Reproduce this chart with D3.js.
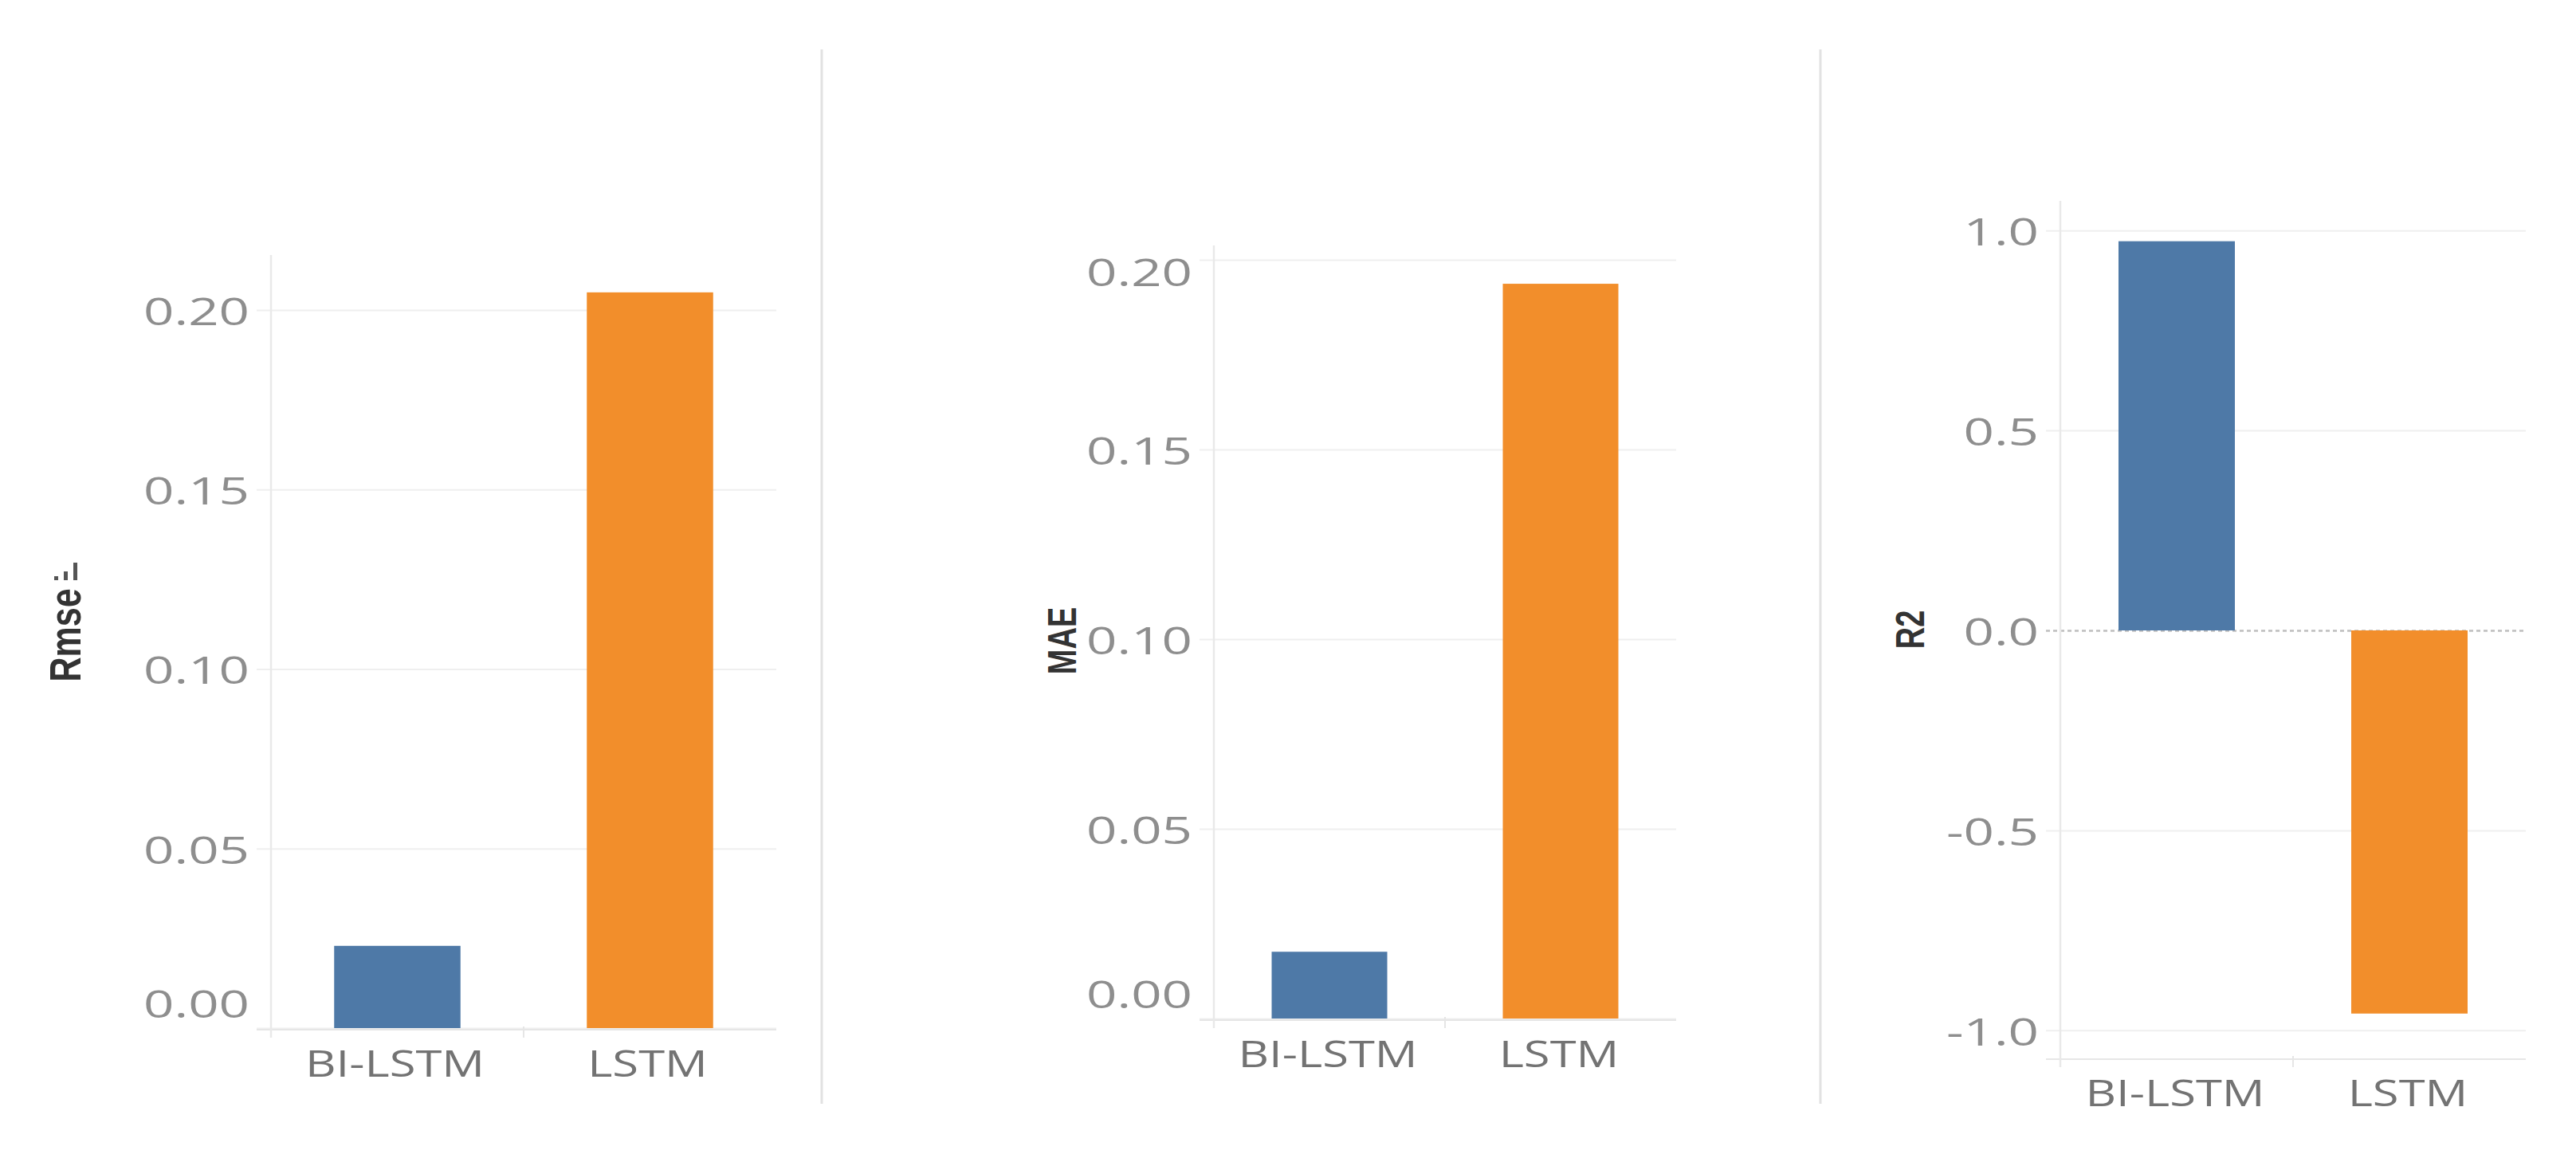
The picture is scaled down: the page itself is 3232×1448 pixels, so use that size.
<!DOCTYPE html>
<html>
<head>
<meta charset="utf-8">
<script src="https://cdn.jsdelivr.net/npm/d3@7"></script>
<style>
  html, body { margin: 0; padding: 0; background: #ffffff; }
  svg { display: block; }
</style>
</head>
<body>
<svg id="chart" width="3232" height="1448"></svg>
<script>
// ---------------- data ----------------
const categories = ["BI-LSTM", "LSTM"];
const metricNames = ["Rmse", "MAE", "R2"];
const rmseValues = [0.0229, 0.2049];
const maeValues = [0.0176, 0.1937];
const r2Values = [0.973, -0.958];
const rmseTicks = [0.00, 0.05, 0.10, 0.15, 0.20];
const maeTicks = [0.00, 0.05, 0.10, 0.15, 0.20];
const r2Ticks = [-1.0, -0.5, 0.0, 0.5, 1.0];
const barColors = ["#4e79a7", "#f28e2b"];

// ---------------- layout ----------------
const SX = 1.3;    // horizontal stretch of the original picture's text
const SXT = 1.4;   // stretch for tick labels
const locale = d3.formatLocale({ decimal: ".", thousands: ",", grouping: [3], currency: ["", ""], minus: "-" });
const panels = [
  { title: metricNames[0], values: rmseValues, ticks: rmseTicks, fmt: locale.format(".2f"),
    x0: 340, x1: 974, yTop: 320, yBot: 1290, domain: [0, 0.2153],
    titleX: 82, titleY: 797, titleSize: 43, icon: true, zeroLine: false },
  { title: metricNames[1], values: maeValues, ticks: maeTicks, fmt: locale.format(".2f"),
    x0: 1523, x1: 2103, yTop: 308, yBot: 1278, domain: [0, 0.2038],
    titleX: 1333, titleY: 804, titleSize: 38, icon: false, zeroLine: false },
  { title: metricNames[2], values: r2Values, ticks: r2Ticks, fmt: locale.format(".1f"),
    x0: 2585, x1: 3169, yTop: 252, yBot: 1327, domain: [-1.068, 1.074],
    titleX: 2397, titleY: 790, titleSize: 38, icon: false, zeroLine: true }
];
const dividers = [1031, 2284];

const svg = d3.select("#chart");
const FONT = "'Open Sans', 'DejaVu Sans', sans-serif";

// panel dividers
svg.selectAll("line.divider").data(dividers).join("line")
  .attr("class", "divider")
  .attr("x1", d => d).attr("x2", d => d)
  .attr("y1", 62).attr("y2", 1385)
  .attr("stroke", "#e2e2e2").attr("stroke-width", 3);

panels.forEach(p => {
  const g = svg.append("g");
  const x = d3.scaleBand().domain(categories).range([p.x0, p.x1])
    .paddingInner(0.5).paddingOuter(0.25);
  const xb = d3.scaleBand().domain(categories).range([p.x0, p.x1]).padding(0);
  const y = d3.scaleLinear().domain(p.domain).range([p.yBot, p.yTop]);

  // gridlines
  const grid = g.append("g")
    .call(d3.axisLeft(y).tickValues(p.ticks).tickSize(0).tickFormat(""))
    .attr("transform", `translate(${p.x0 - 18},0)`);
  grid.select(".domain").remove();
  grid.selectAll(".tick line")
    .attr("x2", p.x1 - p.x0 + 18)
    .attr("stroke", d => (d === 0 && p.zeroLine) ? "#bdbdbd" : "#efefef")
    .attr("stroke-width", d => (d === 0 && p.zeroLine) ? 2.5 : 2)
    .attr("stroke-dasharray", d => (d === 0 && p.zeroLine) ? "5,4" : null);

  // baseline / header line at bottom
  g.append("line")
    .attr("x1", p.x0 - 18).attr("x2", p.x1)
    .attr("y1", p.yBot + 2).attr("y2", p.yBot + 2)
    .attr("stroke", "#e6e6e6").attr("stroke-width", 2);
  // small divider tick between categories
  g.append("line")
    .attr("x1", xb(categories[1])).attr("x2", xb(categories[1]))
    .attr("y1", p.yBot - 2).attr("y2", p.yBot + 12)
    .attr("stroke", "#e6e6e6").attr("stroke-width", 2);
  // vertical axis line
  g.append("line")
    .attr("x1", p.x0).attr("x2", p.x0)
    .attr("y1", p.yTop).attr("y2", p.yBot + 12)
    .attr("stroke", "#e9e9e9").attr("stroke-width", 2.5);

  // bars
  g.selectAll("rect.bar").data(p.values).join("rect")
    .attr("class", "bar")
    .attr("x", (d, i) => x(categories[i]))
    .attr("width", x.bandwidth())
    .attr("y", d => y(Math.max(0, d)))
    .attr("height", d => Math.abs(y(d) - y(0)))
    .attr("fill", (d, i) => barColors[i]);

  // tick labels through an axis
  const ax = g.append("g")
    .attr("transform", `translate(${p.x0},0)`)
    .call(d3.axisLeft(y).tickValues(p.ticks).tickSize(0).tickFormat(p.fmt));
  ax.select(".domain").remove();
  ax.selectAll(".tick text")
    .attr("x", 0).attr("dy", null)
    .attr("dominant-baseline", "central")
    .attr("text-anchor", "end")
    .attr("fill", "#8e8e8e")
    .style("font-family", FONT)
    .style("font-size", "48px")
    .attr("transform", d => {
      const yy = y(d);
      const m = 32;
      const c = Math.min(Math.max(yy, p.yTop + m), p.yBot - m);
      return `translate(-27,${c - yy}) scale(${SXT},1)`;
    });

  // category labels
  g.selectAll("text.cat").data(categories).join("text")
    .attr("class", "cat")
    .attr("transform", d => `translate(${xb(d) + xb.bandwidth() / 2 - (p === panels[0] ? 3 : 2)},${p.yBot + 43}) scale(${SX},1)`)
    .attr("text-anchor", "middle")
    .attr("dominant-baseline", "central")
    .attr("fill", "#737373")
    .style("font-family", FONT)
    .style("font-size", "46px")
    .text(d => d);

  // axis title (rotated)
  g.append("text")
    .attr("transform", `translate(${p.titleX},${p.titleY}) scale(${SX},1) rotate(-90)`)
    .attr("text-anchor", "middle")
    .attr("dominant-baseline", "central")
    .attr("fill", "#333333")
    .style("font-family", "'Liberation Sans', Arial, sans-serif")
    .style("font-weight", "700")
    .style("font-size", p.titleSize + "px")
    .text(p.title);

  if (p.icon) {
    // small sort indicator next to the title
    const iconHeights = [5, 11, 22];
    g.selectAll("rect.icon").data(iconHeights).join("rect")
      .attr("class", "icon")
      .attr("x", (d, i) => p.titleX - 14 + i * 12)
      .attr("width", 5)
      .attr("y", d => 728 - d)
      .attr("height", d => d)
      .attr("fill", "#555555");
  }
});
</script>
</body>
</html>
